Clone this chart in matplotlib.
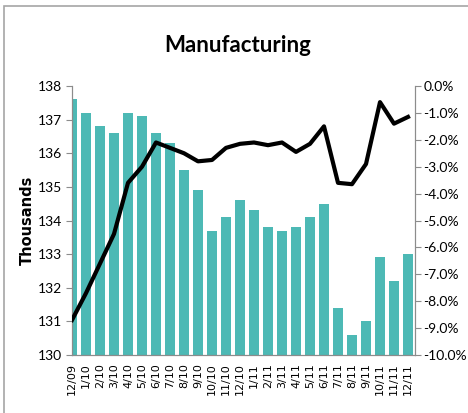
import matplotlib
matplotlib.use("Agg")
import matplotlib.pyplot as plt
from matplotlib.patches import Rectangle
from matplotlib.ticker import FuncFormatter, MultipleLocator

# monthly manufacturing employment (thousands) and year-over-year change (%)
months = ["12/09", "1/10", "2/10", "3/10", "4/10", "5/10", "6/10", "7/10", "8/10",
          "9/10", "10/10", "11/10", "12/10", "1/11", "2/11", "3/11", "4/11", "5/11",
          "6/11", "7/11", "8/11", "9/11", "10/11", "11/11", "12/11"]
employment = [137.6, 137.2, 136.8, 136.6, 137.2, 137.1, 136.6, 136.3, 135.5,
              134.9, 133.7, 134.1, 134.6, 134.3, 133.8, 133.7, 133.8, 134.1,
              134.5, 131.4, 130.6, 131.0, 132.9, 132.2, 133.0]
yoy_change = [-8.7, -7.7, -6.6, -5.5, -3.6, -3.0, -2.1, -2.3, -2.5,
              -2.8, -2.75, -2.3, -2.15, -2.1, -2.2, -2.1, -2.45, -2.15,
              -1.5, -3.6, -3.65, -2.9, -0.6, -1.4, -1.15]

bar_color = "#4DB9B5"
axis_grey = "#8C8C8C"
label_font = "Lato"

fig = plt.figure(figsize=(4.68, 4.13), dpi=100)

# chart border (only left and top edges fall inside the image)
fig.patches.append(Rectangle((4 / 468, -0.1), 1.2, 1 - 6 / 413 + 0.1,
                             transform=fig.transFigure, fill=False,
                             edgecolor="#A6A6A6", linewidth=1.2))

ax = fig.add_axes([72 / 468, 58 / 413, 343 / 468, 269 / 413])
x = list(range(len(months)))
ax.bar(x, employment, width=0.74, color=bar_color, zorder=2)
ax.set_xlim(0, 24.5)
ax.set_ylim(130, 138)
ax.yaxis.set_major_locator(MultipleLocator(1))
ax.set_xticks(x)
ax.set_xticklabels(months, rotation=90, fontsize=8, family="DejaVu Sans")
ax.tick_params(axis="x", length=0, pad=6)
ax.tick_params(axis="y", direction="out", length=4, color=axis_grey,
               labelsize=10, pad=3)
for lbl in ax.get_yticklabels():
    lbl.set_family(label_font)
ax.set_ylabel("Thousands", fontsize=10.5, fontweight="heavy",
              family="DejaVu Sans", labelpad=2)

ax.spines["top"].set_visible(False)
for side in ["left", "bottom", "right"]:
    ax.spines[side].set_color(axis_grey)

ax2 = ax.twinx()
ax2.plot(x, yoy_change, color="black", linewidth=3.0, solid_joinstyle="round", zorder=3)
ax2.set_xlim(0, 24.5)
ax2.set_ylim(-10, 0)
ax2.yaxis.set_major_locator(MultipleLocator(1))
ax2.yaxis.set_major_formatter(FuncFormatter(lambda v, p: f"{v:.1f}%"))
ax2.tick_params(axis="y", direction="out", length=4, color=axis_grey,
                labelsize=10, pad=2)
for lbl in ax2.get_yticklabels():
    lbl.set_family(label_font)
ax2.spines["top"].set_visible(False)
for side in ["left", "bottom", "right"]:
    ax2.spines[side].set_color(axis_grey)

fig.text(238 / 468, 1 - 46 / 413, "Manufacturing", ha="center", va="center",
         fontsize=16, fontweight="bold", family=label_font)

fig.savefig("out.png", dpi=100)
